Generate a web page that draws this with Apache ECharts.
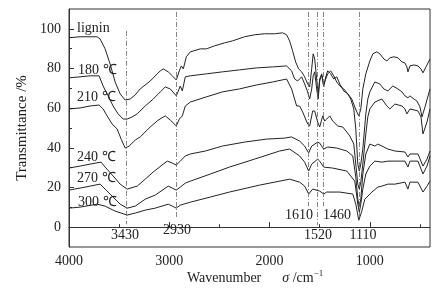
<!DOCTYPE html>
<html><head><meta charset="utf-8">
<script src="https://cdn.jsdelivr.net/npm/echarts@6/dist/echarts.min.js"></script>
<style>html,body{margin:0;padding:0;background:#fff}#c{width:437px;height:294px}</style>
</head><body><div id="c"></div><script>
// [wavenumber cm^-1, transmittance %]
const lignin = [[4000,95.5],[3890,96.0],[3790,96.0],[3720,96.0],[3690,94.9],[3640,89.9],[3590,82.3],[3540,73.2],[3490,67.2],[3440,64.1],[3390,64.6],[3340,66.7],[3290,69.7],[3190,73.7],[3090,78.8],[3060,79.8],[3010,78.3],[2970,76.3],[2930,74.2],[2900,78.8],[2880,81.3],[2860,79.8],[2830,85.9],[2790,88.4],[2690,89.9],[2630,89.9],[2550,91.4],[2450,92.9],[2370,93.9],[2250,96.0],[2150,97.0],[2050,97.5],[1950,97.5],[1870,98.0],[1830,97.0],[1800,93.9],[1770,88.9],[1740,83.3],[1710,79.8],[1680,78.3],[1650,75.8],[1620,72.2],[1600,70.7],[1580,79.8],[1565,87.4],[1550,84.8],[1530,74.7],[1515,67.2],[1500,74.7],[1480,77.3],[1460,70.7],[1440,75.8],[1420,78.8],[1390,77.3],[1360,74.7],[1330,75.8],[1300,72.2],[1260,68.7],[1220,67.2],[1180,64.6],[1150,60.6],[1130,58.1],[1110,56.1],[1090,59.6],[1070,69.7],[1040,77.3],[1000,83.8],[970,87.4],[930,88.4],[900,87.4],[860,84.8],[830,83.8],[800,85.4],[760,85.9],[720,85.4],[680,83.3],[650,82.8],[630,80.8],[620,78.3],[600,81.3],[560,81.8],[520,81.3],[490,79.8],[470,77.8],[440,80.8],[400,84.8]];
const t180 = [[4000,75.3],[3890,75.8],[3790,76.3],[3700,76.3],[3660,71.2],[3610,66.2],[3560,61.1],[3510,57.1],[3460,54.5],[3420,54.5],[3370,55.6],[3320,57.1],[3240,61.1],[3160,64.6],[3090,68.2],[3040,70.7],[2990,69.7],[2930,66.2],[2890,71.2],[2870,68.7],[2840,75.8],[2790,76.3],[2630,77.3],[2470,78.3],[2300,79.3],[2130,80.3],[1970,80.8],[1830,81.3],[1780,78.8],[1750,74.7],[1720,73.7],[1680,75.8],[1650,72.2],[1620,68.2],[1600,64.6],[1580,69.7],[1565,76.3],[1550,78.3],[1530,69.7],[1515,64.6],[1500,73.7],[1480,76.8],[1460,71.7],[1440,74.7],[1420,77.3],[1390,78.8],[1360,76.3],[1330,73.2],[1300,71.2],[1260,69.7],[1220,67.2],[1190,64.6],[1160,59.6],[1140,49.5],[1120,31.8],[1105,28.3],[1090,31.8],[1070,39.4],[1040,57.1],[1020,64.6],[1000,68.2],[950,73.2],[900,72.2],[860,69.7],[820,68.7],[770,71.2],[720,69.7],[680,68.2],[650,66.2],[620,65.2],[600,66.2],[560,64.6],[530,63.6],[500,60.6],[480,55.6],[450,60.6],[400,69.7]];
const t210 = [[4000,59.6],[3890,60.1],[3790,61.1],[3700,61.6],[3660,59.6],[3620,56.1],[3570,52.0],[3520,49.5],[3480,44.4],[3440,39.9],[3400,40.9],[3340,43.9],[3290,45.5],[3190,50.5],[3110,54.0],[3040,56.1],[2990,54.0],[2930,51.0],[2900,54.5],[2870,56.1],[2840,61.1],[2790,63.1],[2630,65.7],[2470,68.2],[2300,69.7],[2130,71.7],[1970,73.2],[1830,74.7],[1780,69.7],[1730,61.1],[1700,61.1],[1670,58.1],[1620,52.0],[1600,51.0],[1570,58.6],[1550,58.6],[1520,53.0],[1500,50.5],[1470,56.1],[1450,53.5],[1430,54.5],[1400,56.1],[1370,53.5],[1320,51.0],[1270,50.5],[1230,48.0],[1200,46.0],[1160,41.9],[1140,31.8],[1120,21.7],[1105,19.2],[1090,22.7],[1070,31.8],[1040,47.0],[1020,55.6],[1000,59.6],[950,63.1],[880,64.6],[830,61.1],[800,59.6],[750,62.1],[680,61.1],[650,59.6],[630,57.1],[600,59.6],[560,59.1],[520,58.6],[490,55.6],[470,47.0],[430,53.0],[400,59.6]];
const t240 = [[4000,29.8],[3890,30.8],[3790,31.8],[3680,32.8],[3640,30.3],[3560,25.8],[3490,21.7],[3420,19.2],[3320,20.7],[3240,24.2],[3160,27.8],[3060,31.8],[3020,33.3],[2970,32.3],[2930,31.3],[2890,33.3],[2840,35.9],[2790,36.9],[2640,38.4],[2470,40.9],[2250,42.9],[2030,44.4],[1850,44.9],[1780,45.5],[1700,43.4],[1650,40.9],[1610,37.4],[1580,40.9],[1520,42.9],[1500,42.4],[1460,39.4],[1420,40.4],[1330,39.9],[1230,38.4],[1170,35.9],[1140,25.3],[1120,14.1],[1105,10.6],[1090,14.1],[1070,26.8],[1040,36.9],[1000,41.9],[950,40.9],[920,41.9],[820,39.4],[750,38.4],[650,37.9],[620,35.4],[600,36.9],[520,36.9],[470,30.8],[430,34.3],[400,38.4]];
const t270 = [[4000,18.7],[3890,19.7],[3790,20.7],[3690,21.7],[3640,19.2],[3560,15.2],[3490,11.6],[3420,9.6],[3340,10.6],[3240,14.1],[3140,16.2],[3010,20.7],[2970,19.7],[2930,18.7],[2890,20.2],[2840,22.2],[2790,23.2],[2590,26.8],[2400,30.3],[2150,34.3],[1900,38.4],[1800,39.4],[1700,35.9],[1650,32.8],[1610,28.3],[1580,31.8],[1520,34.3],[1500,33.3],[1460,30.3],[1370,29.8],[1230,28.3],[1150,23.2],[1120,11.6],[1105,7.6],[1090,11.6],[1070,19.2],[1040,26.8],[1000,30.8],[950,33.3],[880,32.8],[820,33.3],[750,33.3],[650,33.3],[620,30.3],[600,33.3],[520,33.3],[470,26.8],[430,30.8],[400,35.9]];
const t300 = [[4000,9.6],[3890,10.1],[3720,11.6],[3640,10.6],[3540,8.1],[3420,6.1],[3340,7.1],[3240,8.6],[3140,9.6],[3010,11.6],[2970,10.6],[2930,9.6],[2890,11.1],[2790,12.6],[2590,15.2],[2400,17.7],[2100,21.2],[1800,24.2],[1700,22.7],[1650,20.7],[1610,16.7],[1570,19.2],[1500,18.2],[1460,16.7],[1430,17.7],[1300,17.7],[1170,16.7],[1140,11.6],[1110,3.5],[1080,8.1],[1050,14.1],[980,17.7],[920,20.2],[880,20.7],[820,21.7],[750,21.7],[650,22.7],[620,19.2],[600,22.7],[520,22.7],[470,17.7],[430,20.7],[400,23.2]];
const seriesNames = ['lignin','180 ℃','210 ℃','240 ℃','270 ℃','300 ℃'];
const bandWavenumbers = [3430, 2930, 1610, 1520, 1460, 1110];
const xMajorTicks = [1000, 2000, 3000, 4000];
const xMinorTicks = [500, 1500, 2500, 3500];
const yMajorTicks = [0, 20, 40, 60, 80, 100];
const yMinorTicks = [10, 30, 50, 70, 90];

const FONT = "'Liberation Serif','Times New Roman',serif";
const INK = '#222';
const chart = echarts.init(document.getElementById('c'), null, {renderer: 'canvas'});

// vertical extent (data units) for each dash-dot band line
const bandTop = [99, 108.5, 108.5, 108.5, 108.5, 108.5];
const bandBottom = [1.5, 5, 10.5, 1, 10.5, 5];
const bandLabelPos = [[125,235],[177,230],[299,215],[318,235],[337,215],[363,235]];
const curveLabelPos = [[77,28],[78,70],[77,97.5],[77,157],[77,178],[78,202]];

const datasets = [lignin, t180, t210, t240, t270, t300];

const series = datasets.map((d, i) => ({
  name: seriesNames[i], type: 'line', data: d, showSymbol: false, symbol: 'none',
  lineStyle: {color: INK, width: 1}, z: 3, animation: false,
  markLine: i === 0 ? {
    silent: true, symbol: 'none', animation: false,
    lineStyle: {color: '#666', width: 0.8, type: [5, 2, 1, 2]},
    label: {show: false},
    data: bandWavenumbers.map((w, k) => [{coord: [w, bandTop[k]]}, {coord: [w, bandBottom[k]]}])
  } : undefined
}));

const graphics = [];
seriesNames.forEach((n, i) => graphics.push({
  type: 'text', x: curveLabelPos[i][0], y: curveLabelPos[i][1], z: 10,
  style: {text: n, font: '14px ' + FONT, fill: INK, textVerticalAlign: 'middle'}
}));
bandWavenumbers.forEach((w, k) => graphics.push({
  type: 'text', x: bandLabelPos[k][0], y: bandLabelPos[k][1], z: 10,
  style: {text: String(w), font: '14px ' + FONT, fill: INK, textAlign: 'center', textVerticalAlign: 'middle'}
}));
graphics.push({
  type: 'text', x: 187, y: 277, z: 10,
  style: {
    text: '{a|Wavenumber}{b|σ}{a| /cm}{c|−1}', textVerticalAlign: 'middle', fill: INK,
    rich: {
      a: {font: '14px ' + FONT, fill: INK, lineHeight: 16, verticalAlign: 'bottom'},
      b: {font: 'italic 14px ' + FONT, fill: INK, lineHeight: 16, verticalAlign: 'bottom', padding: [0, 0, 0, 21]},
      c: {font: '9px ' + FONT, fill: INK, lineHeight: 16, verticalAlign: 'top'}
    }
  }
});

const xBase = {type: 'value', min: 400, max: 4000, inverse: true, splitLine: {show: false}};
const yBase = {type: 'value', min: -10, max: 110, splitLine: {show: false}};

chart.setOption({
  animation: false,
  grid: {left: 69, right: 7, top: 9, bottom: 47, show: true, borderColor: '#333', borderWidth: 1},
  xAxis: [
    Object.assign({}, xBase, {
      axisLine: {show: true, lineStyle: {color: '#333', width: 1}},
      axisTick: {show: true, inside: true, length: 5, customValues: xMajorTicks, lineStyle: {color: '#333'}},
      axisLabel: {show: true, customValues: xMajorTicks, margin: 7, fontFamily: FONT, fontSize: 14, color: INK,
                  formatter: v => String(v)}
    }),
    Object.assign({}, xBase, {
      position: 'bottom',
      axisLine: {show: false},
      axisTick: {show: true, inside: true, length: 3, customValues: xMinorTicks, lineStyle: {color: '#333'}},
      axisLabel: {show: false}
    })
  ],
  yAxis: [
    Object.assign({}, yBase, {
      name: 'Transmittance /%', nameLocation: 'middle', nameGap: 38,
      nameTextStyle: {fontFamily: FONT, fontSize: 15, color: INK},
      axisLine: {show: true, lineStyle: {color: '#333', width: 1}},
      axisTick: {show: true, inside: true, length: 5, customValues: yMajorTicks, lineStyle: {color: '#333'}},
      axisLabel: {show: true, customValues: yMajorTicks, margin: 8, fontFamily: FONT, fontSize: 14, color: INK,
                  formatter: v => String(v)}
    }),
    Object.assign({}, yBase, {
      position: 'left',
      axisLine: {show: false},
      axisTick: {show: true, inside: true, length: 3, customValues: yMinorTicks, lineStyle: {color: '#333'}},
      axisLabel: {show: false}
    })
  ],
  series: series,
  graphic: graphics
});
</script></body></html>
